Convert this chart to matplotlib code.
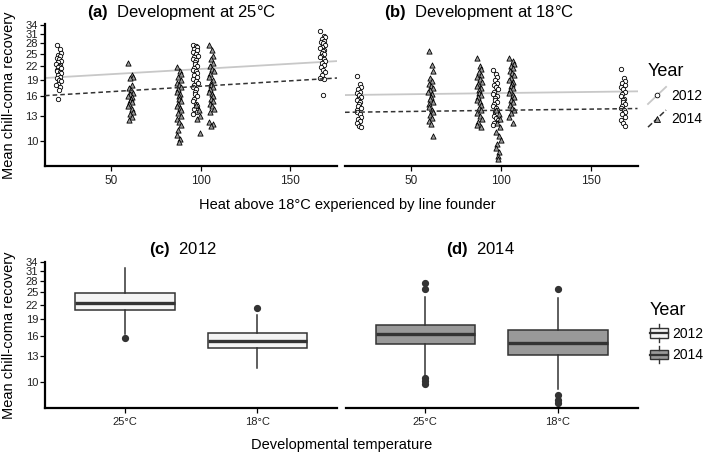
import matplotlib
matplotlib.use('Agg')
import matplotlib.pyplot as plt
from matplotlib.lines import Line2D
from matplotlib.patches import Rectangle
from matplotlib.legend_handler import HandlerBase
from matplotlib.ticker import NullLocator, FixedLocator, FixedFormatter

plt.rcParams['font.family'] = ['Liberation Sans', 'DejaVu Sans']
plt.rcParams['mathtext.fontset'] = 'custom'
plt.rcParams['mathtext.bf'] = 'Liberation Sans:bold'
plt.rcParams['mathtext.rm'] = 'Liberation Sans'

# ---- data ----
# founder heat (x) of each line, per year
founders_2012 = [21, 97, 168]
founders_2014 = [61, 88, 98.5, 106]

# panel (a): development at 25C
a_2012 = [
    [27.6, 26.5, 25.2, 24.8, 24.5, 24.0, 23.6, 23.2, 23.0, 22.6, 22.3, 22.0, 21.8, 21.5,
     21.2, 21.0, 20.7, 20.4, 20.0, 19.6, 19.3, 19.0, 18.7, 18.3, 18.0, 17.6, 17.0, 15.5],
    [27.6, 27.2, 26.8, 26.3, 26.0, 25.5, 25.0, 24.6, 24.2, 23.8, 23.4, 23.0, 22.5, 22.0,
     21.6, 21.2, 20.8, 20.4, 20.0, 19.6, 19.2, 18.8, 18.4, 18.0, 17.6, 17.2, 16.8, 16.4,
     16.0, 15.6, 15.2, 14.8, 14.4, 14.0, 13.6, 13.3],
    [31.9, 30.2, 29.8, 29.3, 28.8, 28.4, 28.0, 27.5, 27.0, 26.6, 26.2, 25.8, 25.4, 25.0,
     24.6, 24.2, 23.8, 23.3, 22.8, 22.3, 21.8, 21.2, 20.6, 20.0, 19.5, 19.1, 16.2],
]
a_2014 = [
    [22.8, 20.0, 19.6, 19.3, 18.0, 17.5, 17.0, 16.6, 16.3, 16.0, 15.8, 15.5, 15.2, 15.0,
     14.7, 14.4, 14.0, 13.6, 13.2, 12.8, 12.4],
    [21.7, 20.8, 20.2, 19.6, 19.0, 18.5, 18.0, 17.6, 17.2, 16.8, 16.4, 16.0, 15.6, 15.2,
     14.8, 14.5, 14.2, 13.8, 13.4, 13.0, 12.6, 12.2, 11.8, 11.2, 10.6, 10.2, 9.85],
    [14.6, 13.8, 13.0, 12.6, 10.9],
    [27.6, 26.0, 24.5, 23.6, 22.8, 22.0, 21.4, 20.8, 20.2, 19.6, 19.0, 18.5, 18.0, 17.6,
     17.2, 16.8, 16.4, 16.0, 15.6, 15.2, 14.8, 14.4, 14.0, 13.6, 12.2, 11.9, 11.7],
]

# panel (b): development at 18C
b_2012 = [
    [19.9, 18.2, 17.6, 17.2, 16.8, 16.5, 16.2, 15.9, 15.6, 15.3, 15.0, 14.7, 14.4, 14.1,
     13.8, 13.5, 13.2, 12.9, 12.6, 12.3, 12.0, 11.7, 11.5],
    [21.2, 20.3, 19.6, 19.0, 18.5, 18.0, 17.6, 17.2, 16.8, 16.4, 16.0, 15.7, 15.4, 15.1,
     14.8, 14.5, 14.2, 13.9, 13.6, 13.3, 13.0, 12.7, 12.4, 12.1, 11.8],
    [21.4, 19.3, 18.8, 18.4, 18.0, 17.6, 17.2, 16.8, 16.4, 16.0, 15.6, 15.3, 15.0, 14.7,
     14.4, 14.1, 13.8, 13.5, 13.2, 12.9, 12.5, 12.1, 11.7],
]
b_2014 = [
    [25.9, 22.2, 20.8, 19.5, 18.8, 18.3, 17.9, 17.5, 17.1, 16.7, 16.3, 15.9, 15.5, 15.1,
     14.7, 14.3, 13.9, 13.5, 13.1, 12.7, 12.3, 11.96, 10.5],
    [23.9, 22.0, 21.3, 20.7, 20.1, 19.6, 19.1, 18.6, 18.2, 17.8, 17.4, 17.0, 16.6, 16.2,
     15.8, 15.4, 15.0, 14.6, 14.2, 13.8, 13.4, 13.0, 12.6, 12.2, 11.8, 11.5],
    [13.8, 13.2, 12.6, 12.0, 11.5, 11.0, 10.5, 10.1, 9.7, 9.3, 8.9, 8.5, 8.2],
    [23.9, 23.2, 22.6, 22.0, 21.5, 21.0, 20.5, 20.0, 19.5, 19.0, 18.6, 18.2, 17.8, 17.4,
     17.0, 16.6, 16.2, 15.8, 15.4, 15.0, 14.6, 14.2, 13.8, 13.4, 12.8, 12.1],
]

# fitted lines (values at the two ends of the x range)
fit_x = [13.3, 176]
fit_a_2012 = [19.4, 23.2]
fit_a_2014 = [16.1, 19.4]
fit_b_2012 = [16.2, 16.85]
fit_b_2014 = [13.5, 14.05]

# box summaries, panels (c) 2012 and (d) 2014
temps = ['25°C', '18°C']
c_med = [22.5, 15.2]
c_q1 = [20.8, 14.1]
c_q3 = [24.8, 16.5]
c_lo = [16.4, 11.6]
c_hi = [32.0, 19.9]
c_out = [[15.7], [21.4]]
d_med = [16.4, 14.9]
d_q1 = [14.7, 13.2]
d_q3 = [18.0, 17.1]
d_lo = [10.6, 9.3]
d_hi = [23.9, 23.7]
d_out = [[27.6, 25.8, 10.4, 10.1, 9.8], [25.9, 8.8, 8.3, 8.1]]

yticks = [10, 13, 16, 19, 22, 25, 28, 31, 34]
ylim = (7.65, 34.2)

# small horizontal spread of points around each founder value
jitter = [-1.2, 0.5, 1.1, -0.4, 0.9, -1.0, 0.2, 1.3, -0.6, -1.3, 0.7, 0.0, -0.2, 1.0, -0.8]

W, H = 709, 454
fig = plt.figure(figsize=(W / 100, H / 100), dpi=100)


def px_axes(x0, y0, x1, y1):
    return fig.add_axes([x0 / W, 1 - y1 / H, (x1 - x0) / W, (y1 - y0) / H])


def style(ax, left):
    ax.set_yscale('log')
    ax.set_ylim(*ylim)
    ax.yaxis.set_major_locator(FixedLocator(yticks))
    ax.yaxis.set_major_formatter(FixedFormatter([str(t) for t in yticks]))
    ax.yaxis.set_minor_locator(NullLocator())
    for s in ['top', 'right']:
        ax.spines[s].set_visible(False)
    ax.spines['bottom'].set_linewidth(1.6)
    ax.spines['left'].set_linewidth(1.6)
    ax.tick_params(axis='both', length=3.5, width=0.9, colors='black', labelcolor='#222222')
    ax.tick_params(axis='y', labelsize=8, pad=1.5)
    if not left:
        ax.spines['left'].set_visible(False)
        ax.tick_params(axis='y', left=False, labelleft=False)


circle_kw = dict(marker='o', s=10, facecolor='white', edgecolor='black', linewidths=0.6, zorder=3)
tri_kw = dict(marker='^', s=14, facecolor='#9a9a9a', edgecolor='black', linewidths=0.6, zorder=3)


def scatter_groups(ax, xs, groups, kw):
    for x, vals in zip(xs, groups):
        xx = [x + jitter[i % len(jitter)] for i in range(len(vals))]
        ax.scatter(xx, vals, **kw)


axa = px_axes(45, 24.4, 337, 166)
axb = px_axes(345, 24.4, 637.5, 166)
for ax, g12, g14, f12, f14, left in [(axa, a_2012, a_2014, fit_a_2012, fit_a_2014, True),
                                      (axb, b_2012, b_2014, fit_b_2012, fit_b_2014, False)]:
    style(ax, left)
    ax.plot(fit_x, f12, color='#c8c8c8', lw=1.3, zorder=2)
    ax.plot(fit_x, f14, color='#333333', lw=1.1, ls=(0, (3, 2)), zorder=4)
    scatter_groups(ax, founders_2012, g12, circle_kw)
    scatter_groups(ax, founders_2014, g14, tri_kw)
    ax.set_xlim(*fit_x)
    ax.set_xticks([50, 100, 150])
    ax.tick_params(axis='x', labelsize=8.5, pad=3)

axc = px_axes(45.3, 261.7, 337, 408.3)
axd = px_axes(345.7, 261.7, 637.7, 408.3)
for ax, med, q1, q3, lo, hi, out, fill, left in [
        (axc, c_med, c_q1, c_q3, c_lo, c_hi, c_out, '#f4f4f4', True),
        (axd, d_med, d_q1, d_q3, d_lo, d_hi, d_out, '#999999', False)]:
    style(ax, left)
    stats = [dict(med=med[i], q1=q1[i], q3=q3[i], whislo=lo[i], whishi=hi[i], fliers=out[i])
             for i in range(len(temps))]
    ax.bxp(stats, positions=[1, 2], widths=0.75, patch_artist=True, showcaps=False,
           boxprops=dict(facecolor=fill, edgecolor='#333333', linewidth=1.1),
           medianprops=dict(color='#333333', linewidth=2.4),
           whiskerprops=dict(color='#333333', linewidth=1.1),
           flierprops=dict(marker='o', markerfacecolor='#333333', markeredgecolor='#333333',
                           markersize=4.2))
    ax.set_xlim(0.4, 2.6)
    ax.set_xticks([1, 2])
    ax.set_xticklabels(temps)
    ax.tick_params(axis='x', labelsize=8, pad=3)

# titles
titles = [(181.5, 13, r'$\mathbf{(a)}$  Development at 25°C'),
          (479, 13, r'$\mathbf{(b)}$  Development at 18°C'),
          (183, 249.5, r'$\mathbf{(c)}$  2012'),
          (480, 249.5, r'$\mathbf{(d)}$  2014')]
for x, y, t in titles:
    fig.text(x / W, 1 - y / H, t, ha='center', va='center', fontsize=12)

fig.text(347 / W, 1 - 205 / H, 'Heat above 18°C experienced by line founder',
         ha='center', va='center', fontsize=10.5)
fig.text(341.5 / W, 1 - 445 / H, 'Developmental temperature',
         ha='center', va='center', fontsize=10.5)
fig.text(9 / W, 1 - 95 / H, 'Mean chill-coma recovery', rotation=90,
         ha='center', va='center', fontsize=10.5)
fig.text(9 / W, 1 - 335 / H, 'Mean chill-coma recovery', rotation=90,
         ha='center', va='center', fontsize=10.5)


# legends
class DiagHandler(HandlerBase):
    def create_artists(self, legend, orig_handle, xdescent, ydescent, width, height, fontsize, trans):
        line, mk = orig_handle
        x0, y0 = -xdescent, -ydescent
        ln = Line2D([x0, x0 + width], [y0 - 0.1 * height, y0 + 1.1 * height],
                    color=line.get_color(), lw=line.get_linewidth(),
                    linestyle=line.get_linestyle(), transform=trans)
        m = Line2D([x0 + width / 2], [y0 + height / 2], marker=mk.get_marker(),
                   markerfacecolor=mk.get_markerfacecolor(), markeredgecolor='black',
                   markeredgewidth=0.6, markersize=mk.get_markersize(), linestyle='none',
                   transform=trans)
        return [ln, m]


class BoxHandler(HandlerBase):
    def create_artists(self, legend, orig_handle, xdescent, ydescent, width, height, fontsize, trans):
        x0, y0 = -xdescent, -ydescent
        fc = orig_handle.get_facecolor()
        r = Rectangle((x0, y0 + 0.12 * height), width, 0.76 * height, facecolor=fc,
                      edgecolor='#333333', lw=1.0, transform=trans)
        med = Line2D([x0, x0 + width], [y0 + height / 2] * 2, color='#333333', lw=1.6,
                     transform=trans)
        w1 = Line2D([x0 + width / 2] * 2, [y0 + 0.88 * height, y0 + 1.2 * height],
                    color='#333333', lw=1.0, transform=trans)
        w2 = Line2D([x0 + width / 2] * 2, [y0 - 0.2 * height, y0 + 0.12 * height],
                    color='#333333', lw=1.0, transform=trans)
        return [r, med, w1, w2]


h12 = (Line2D([], [], color='#c8c8c8', lw=1.3),
       Line2D([], [], marker='o', markerfacecolor='white', markersize=3.4))
h14 = (Line2D([], [], color='#333333', lw=1.1, ls=(0, (2, 1.5))),
       Line2D([], [], marker='^', markerfacecolor='#9a9a9a', markersize=3.8))
leg1 = fig.legend([h12, h14], ['2012', '2014'], title='Year',
                  handler_map={tuple: DiagHandler()}, loc='upper left',
                  bbox_to_anchor=(648 / W, 1 - 63 / H), frameon=False, fontsize=10,
                  title_fontsize=13, alignment='left', handlelength=1.3, handleheight=1.2,
                  handletextpad=0.35, labelspacing=0.6, borderpad=0, borderaxespad=0)

b12 = Rectangle((0, 0), 1, 1, facecolor='#f4f4f4')
b14 = Rectangle((0, 0), 1, 1, facecolor='#999999')
leg2 = fig.legend([b12, b14], ['2012', '2014'], title='Year',
                  handler_map={Rectangle: BoxHandler()}, loc='upper left',
                  bbox_to_anchor=(650 / W, 1 - 302 / H), frameon=False, fontsize=10,
                  title_fontsize=13, alignment='left', handlelength=1.3, handleheight=1.0,
                  handletextpad=0.3, labelspacing=0.55, borderpad=0, borderaxespad=0)

fig.savefig('out.png', dpi=100)
